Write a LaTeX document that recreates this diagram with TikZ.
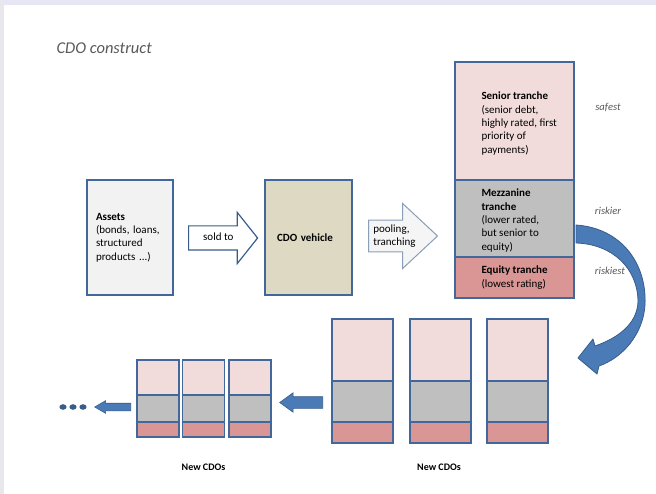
\documentclass[tikz,border=0pt]{standalone}
\usepackage{fontspec}
\setmainfont{Carlito}
\usetikzlibrary{shapes.arrows,positioning}

\definecolor{frameblue}{HTML}{41679B}
\definecolor{arrowblue}{HTML}{4A7BB7}
\definecolor{arrowedge}{HTML}{385D8A}
\definecolor{seniorfill}{HTML}{F2DCDB}
\definecolor{mezzfill}{HTML}{BFBFBF}
\definecolor{equityfill}{HTML}{D99694}
\definecolor{assetfill}{HTML}{F2F2F2}
\definecolor{vehiclefill}{HTML}{DDD9C3}
\definecolor{labelgray}{HTML}{595959}
\definecolor{bandlav}{HTML}{E6E6F5}
\definecolor{bandgray}{HTML}{E8E8EC}

\begin{document}
\begin{tikzpicture}[x=1pt, y=-1pt,
    every node/.style={font=\fontsize{11}{13.3}\selectfont},
    box/.style={rectangle, draw=frameblue, line width=1.4pt, inner sep=0pt},
    textbox/.style={box, align=left, text width=#1, inner xsep=0pt},
    tranchetext/.style={anchor=west, align=left, inner sep=0pt},
    sidelabel/.style={font=\fontsize{10.6}{13}\selectfont\itshape, text=labelgray},
    cdolabel/.style={font=\fontsize{10}{12}\selectfont\bfseries},
    flowarrow/.style={single arrow, draw=arrowedge, line width=1.2pt, fill=white,
        single arrow head indent=0pt, anchor=tail},
    backarrow/.style={single arrow, shape border rotate=180, fill=arrowblue,
        draw=arrowedge, line width=0.6pt, inner xsep=0pt, single arrow head indent=0pt,
        anchor=tail},
    curvearrow/.style={fill=arrowblue, draw=arrowedge, line width=0.8pt, line join=round}
]
    % page and frame bands
    \fill[white] (0,0) rectangle (656,494);
    \useasboundingbox (0,0) rectangle (656,494);
    \fill[bandlav] (0,0) rectangle (656,5);
    \fill[bandgray] (0,0) rectangle (4,494);

    \node[font=\fontsize{16.5}{19}\selectfont\itshape, text=labelgray, anchor=west] (title) at (53,48) {CDO construct};

    % assets and vehicle
    \node[box, fill=assetfill, minimum width=86, minimum height=115, textbox=68] (assets) at (130,237.5)
        {\textbf{Assets}\\(bonds, loans,\\structured\\products ...)};
    \node[box, fill=vehiclefill, minimum width=87, minimum height=115, textbox=63] (vehicle) at (308.5,237.5)
        {\textbf{CDO vehicle}};

    \node[flowarrow, minimum height=69, minimum width=50, single arrow head extend=13.5,
        single arrow tip angle=103, text height=7, text depth=2, inner ysep=7, inner xsep=2] (sold) at (188,238) {sold to};
    \node[flowarrow, draw=arrowedge!60, fill=black!4, line width=1pt, minimum height=69, minimum width=65,
        single arrow head extend=16.5, single arrow tip angle=86, align=left, inner ysep=4, inner xsep=1] (pool) at (368,236)
        {pooling,\\tranching};

    % tranches
    \node[box, fill=seniorfill, minimum width=119, minimum height=118] (senior) at (514.5,121) {};
    \node[box, fill=mezzfill, minimum width=119, minimum height=77] (mezz) at (514.5,218.5) {};
    \node[box, fill=equityfill, minimum width=119, minimum height=41] (equity) at (514.5,277.5) {};
    \node[tranchetext] (seniortext) at ([xshift=27]senior.west |- 0,123.5)
        {\textbf{Senior tranche}\\(senior debt,\\highly rated, first\\priority of\\payments)};
    \node[tranchetext] (mezztext) at ([xshift=27]mezz.west |- 0,220.5)
        {\textbf{Mezzanine}\\\textbf{tranche}\\(lower rated,\\but senior to\\equity)};
    \node[tranchetext] (equitytext) at ([xshift=27]equity.west |- 0,277.5)
        {\textbf{Equity tranche}\\(lowest rating)};

    \node[sidelabel] (safest) at (608,107) {safest};
    \node[sidelabel] (riskier) at (608,211) {riskier};
    \node[sidelabel] (riskiest) at (610,271) {riskiest};

    % curved arrow down to the new CDOs
    \filldraw[curvearrow] (576,225) .. controls (620,228) and (647,262) .. (645,305)
        .. controls (643,335) and (622,358) .. (599,366)
        -- (597,374) -- (578,358) -- (593,339) -- (595,346)
        .. controls (618,338) and (637,324) .. (638,302)
        .. controls (638,268) and (612,244) .. (576,243) -- cycle;

    % new CDOs, first generation
    \foreach \n/\x in {1/362.5, 2/440.5, 3/517.5} {
        \node[box, fill=seniorfill, minimum width=61, minimum height=62] (bigsenior\n) at (\x,350) {};
        \node[box, fill=mezzfill, minimum width=61, minimum height=41] (bigmezz\n) at (\x,401.5) {};
        \node[box, fill=equityfill, minimum width=61, minimum height=21] (bigequity\n) at (\x,432.5) {};
    }
    \node[cdolabel] (newbig) at (439,467) {New CDOs};

    \node[backarrow, minimum height=43, minimum width=19, single arrow head extend=4,
        single arrow tip angle=72, inner ysep=5.5] (back1) at (323,402.5) {};

    % new CDOs, second generation
    \foreach \n/\x in {1/158, 2/203.5, 3/250} {
        \node[box, fill=seniorfill, minimum width=42, minimum height=35] (smallsenior\n) at (\x,377.5) {};
        \node[box, fill=mezzfill, minimum width=42, minimum height=27] (smallmezz\n) at (\x,408.5) {};
        \node[box, fill=equityfill, minimum width=42, minimum height=15] (smallequity\n) at (\x,429.5) {};
    }
    \node[cdolabel] (newsmall) at (203.5,467) {New CDOs};

    \node[backarrow, minimum height=36, minimum width=12, single arrow head extend=2.5,
        single arrow tip angle=60, inner ysep=3.5] (back2) at (131,407) {};

    \foreach \n/\x in {1/63, 2/73, 3/83}
        \fill[arrowedge] (\x,407) ellipse (3.6 and 2.8);
\end{tikzpicture}
\end{document}
